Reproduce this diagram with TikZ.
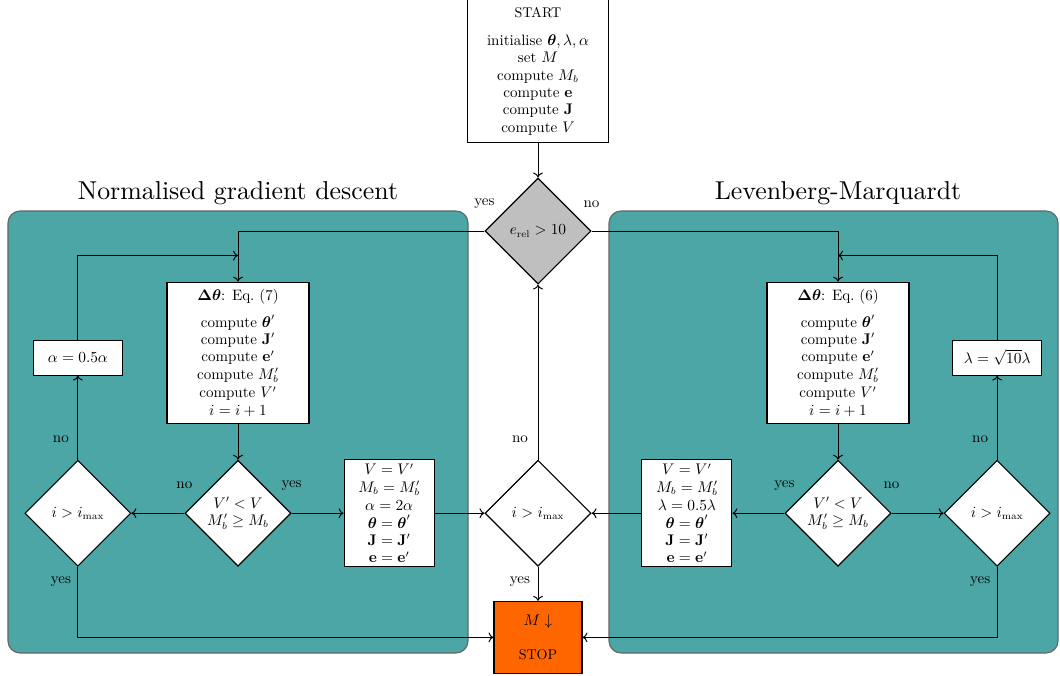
\documentclass[tikz,border=0pt]{standalone}
\usepackage{amsmath}
\usepackage{amssymb}
\usepackage{tikz}
\usetikzlibrary{positioning,arrows.meta,calc,shapes.geometric}

\definecolor{stoporange}{RGB}{255,102,0}

\begin{document}
\begin{tikzpicture}[node distance=1cm, >={To[length=3.5pt,width=7pt]},
    every node/.style={font=\fontsize{10.7}{12.3}\selectfont},
    box/.style={draw, thick, fill=white, align=center, inner sep=1pt},
    dec/.style={draw, thick, fill=white, diamond, align=center, inner sep=0pt, minimum width=2.65cm, minimum height=2.65cm},
    lbl/.style={inner sep=1pt},
    panel/.style={draw=black!60, line width=0.8pt, fill=teal!70, rounded corners=0.3cm},
    title/.style={scale=1.72},
    every path/.style={line width=0.7pt}]

    \useasboundingbox (0,0) rectangle (26.5,16.875);

    \draw[panel] (0.2,0.55) rectangle (11.7,11.6);
    \draw[panel] (15.225,0.55) rectangle (26.45,11.6);
    \node[title] (ngd) at (5.95,12.05) {Normalised gradient descent};
    \node[title] (lm) at (20.95,12.05) {Levenberg-Marquardt};

    \node[box, minimum width=3.525cm, minimum height=3.575cm] (start) at (13.45,15.09) {{\fontsize{10}{11}\selectfont START}\\[7.5pt] initialise $\boldsymbol{\theta}, \lambda, \alpha$\\ set $M$\\ compute $M_b$\\ compute $\mathbf{e}$\\ compute $\mathbf{J}$\\ compute $V$};
    \node[dec, fill=gray!50] (check) [below=0.85cm of start] {$e_{\mathrm{rel}} > 10$};

    \node[box, minimum width=3.55cm, minimum height=3.525cm] (dtL) at (5.95,8.06) {$\boldsymbol{\Delta\theta}$: Eq.~(7)\\[7pt] compute $\boldsymbol{\theta}'$\\ compute $\mathbf{J}'$\\ compute $\mathbf{e}'$\\ compute $M_b'$\\[1pt] compute $V'$\\ $i = i + 1$};
    \node[dec] (decL) [below=0.9cm of dtL] {$V' < V$\\ $M_b' \geq M_b$};
    \node[dec] (imaxL) [left=1.325cm of decL] {$i > i_{\max}$};
    \node[box, minimum width=2.25cm, minimum height=2.675cm] (updL) [right=1.3cm of decL] {$V = V'$\\ $M_b = M_b'$\\[1pt] $\alpha = 2\alpha$\\ $\boldsymbol{\theta} = \boldsymbol{\theta}'$\\ $\mathbf{J} = \mathbf{J}'$\\ $\mathbf{e} = \mathbf{e}'$};
    \node[box, minimum width=2.225cm, minimum height=0.875cm] (alphaL) [above=2.1cm of imaxL] {$\alpha = 0.5\alpha$};

    \node[dec] (imaxC) at (check |- decL) {$i > i_{\max}$};
    \node[box, fill=stoporange, minimum width=2.2cm, minimum height=1.8cm] (stop) [below=0.85cm of imaxC] {$M\downarrow$\\[12pt] {\fontsize{10}{11}\selectfont STOP}};

    \node[box, minimum width=3.55cm, minimum height=3.525cm] (dtR) at (20.95,8.06) {$\boldsymbol{\Delta\theta}$: Eq.~(6)\\[7pt] compute $\boldsymbol{\theta}'$\\ compute $\mathbf{J}'$\\ compute $\mathbf{e}'$\\ compute $M_b'$\\[1pt] compute $V'$\\ $i = i + 1$};
    \node[dec] (decR) [below=0.9cm of dtR] {$V' < V$\\ $M_b' \geq M_b$};
    \node[dec] (imaxR) [right=1.3cm of decR] {$i > i_{\max}$};
    \node[box, minimum width=2.25cm, minimum height=2.675cm] (updR) [left=1.3cm of decR] {$V = V'$\\ $M_b = M_b'$\\[1pt] $\lambda = 0.5\lambda$\\ $\boldsymbol{\theta} = \boldsymbol{\theta}'$\\ $\mathbf{J} = \mathbf{J}'$\\ $\mathbf{e} = \mathbf{e}'$};
    \node[box, minimum width=2.225cm, minimum height=0.875cm] (lambdaR) [above=2.1cm of imaxR] {$\lambda = \sqrt{10}\lambda$};

    \coordinate (joinL) at ($(dtL.north)+(0,0.65)$);
    \coordinate (joinR) at ($(dtR.north)+(0,0.65)$);

    \draw[->] (start) -- (check);
    \draw[->] (check.west) node[lbl, yshift=0.68cm] {yes} -| (dtL.north);
    \draw[->] (check.east) node[lbl, yshift=0.68cm] {no} -| (dtR.north);

    \draw[->] (dtL) -- (decL);
    \draw[->] (decL.east) node[lbl, yshift=0.7cm] {yes} -- (updL.west);
    \draw[->] (decL.west) node[lbl, yshift=0.7cm] {no} -- (imaxL.east);
    \draw[->] (updL.east) -- (imaxC.west);
    \draw[->] (imaxL.north) node[lbl, xshift=-0.425cm, yshift=0.5cm] {no} -- (alphaL.south);
    \draw[->] (alphaL.north) |- (joinL);
    \draw[->] (imaxL.south) node[lbl, xshift=-0.425cm, yshift=-0.375cm] {yes} |- (stop.west);

    \draw[->] (imaxC.north) node[lbl, xshift=-0.45cm, yshift=0.5cm] {no} -- (check.south);
    \draw[->] (imaxC.south) node[lbl, xshift=-0.45cm, yshift=-0.375cm] {yes} -- (stop.north);

    \draw[->] (dtR) -- (decR);
    \draw[->] (decR.west) node[lbl, yshift=0.7cm] {yes} -- (updR.east);
    \draw[->] (decR.east) node[lbl, yshift=0.7cm] {no} -- (imaxR.west);
    \draw[->] (updR.west) -- (imaxC.east);
    \draw[->] (imaxR.north) node[lbl, xshift=-0.425cm, yshift=0.5cm] {no} -- (lambdaR.south);
    \draw[->] (lambdaR.north) |- (joinR);
    \draw[->] (imaxR.south) node[lbl, xshift=-0.425cm, yshift=-0.375cm] {yes} |- (stop.east);

\end{tikzpicture}
\end{document}
